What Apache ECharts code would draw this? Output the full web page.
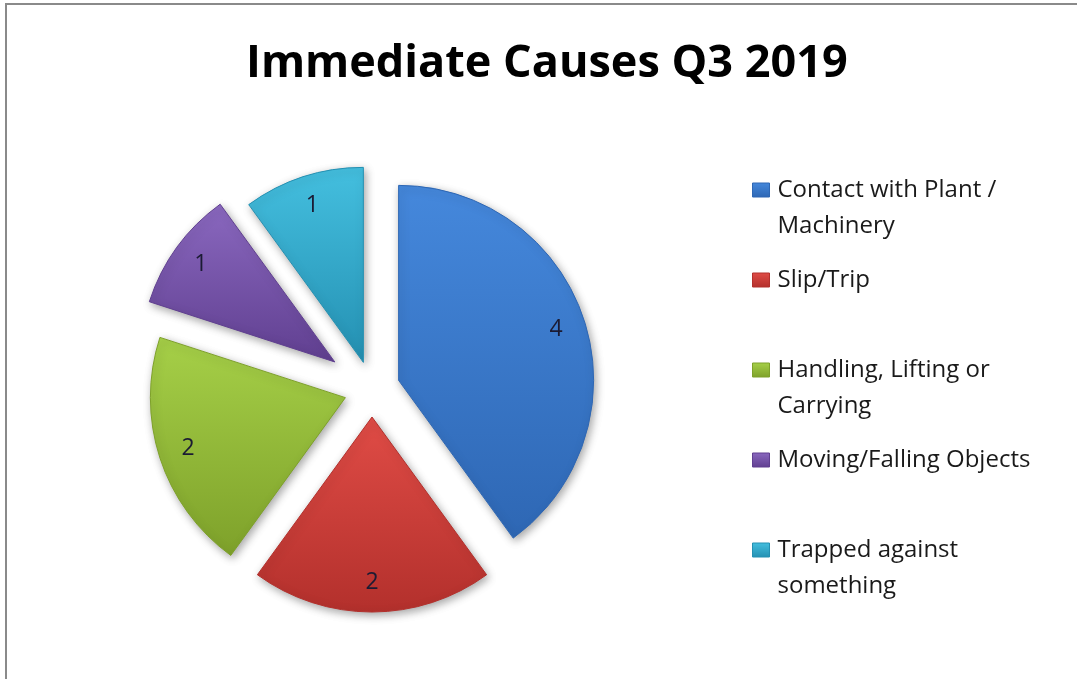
<!DOCTYPE html>
<html>
<head>
<meta charset="utf-8">
<script src="https://cdn.jsdelivr.net/npm/echarts@6/dist/echarts.min.js"></script>
<style>
  html, body { margin: 0; padding: 0; background: #fff; }
  #causes { width: 1077px; height: 679px; }
  #frame {
    position: absolute; left: 5px; top: 3px; width: 1100px; height: 700px;
    border: 2px solid #8a8a8a; pointer-events: none;
  }
</style>
</head>
<body>
<div id="causes"></div>
<div id="frame"></div>
<script>
// chart data
const categories = [
  'Contact with Plant / Machinery',
  'Slip/Trip',
  'Handling, Lifting or Carrying',
  'Moving/Falling Objects',
  'Trapped against something'
]
const counts = [4, 2, 2, 1, 1]

// light / dark shade per slice
const lightColors = ['#4588dc', '#e04c46', '#a6d048', '#8a68bf', '#44bfdf']
const darkColors = ['#2e67b4', '#b3302c', '#7ea12a', '#603f90', '#2490b2']

const CENTER = [372, 389]
const RADIUS = 195
const FAR_INDEX = 3 // purple slice is pulled out further
const OFFSET_NEAR = 28
const OFFSET_FAR = 46

const LEGEND_FONT = '24px "Open Sans"'
const LEGEND_WRAP = 290

function shade(i) {
  return {
    type: 'linear', x: 0, y: 0, x2: 0, y2: 1,
    colorStops: [
      { offset: 0, color: lightColors[i] },
      { offset: 1, color: darkColors[i] }
    ]
  }
}

const hidden = { color: 'rgba(0,0,0,0)', borderWidth: 0, shadowBlur: 0, shadowColor: 'rgba(0,0,0,0)' }

function sliceData(far) {
  return categories.map((name, i) => {
    const show = (i === FAR_INDEX) === far
    return {
      name: name,
      value: counts[i],
      selected: true,
      itemStyle: show ? {
        color: shade(i),
        borderColor: darkColors[i],
        borderWidth: 1,
        shadowBlur: 8,
        shadowOffsetX: 2,
        shadowOffsetY: 3,
        shadowColor: 'rgba(0,0,0,0.35)'
      } : hidden
    }
  })
}

function labelData(far) {
  return categories.map((name, i) => {
    const show = (i === FAR_INDEX) === far
    return {
      name: name,
      value: counts[i],
      selected: true,
      itemStyle: hidden,
      label: { show: show }
    }
  })
}

const labelStyle = {
  show: true,
  position: 'inside',
  formatter: '{c}',
  color: '#1b1b33',
  fontSize: 23,
  fontFamily: 'Open Sans',
  padding: [8, 0, 0, 0]
}

function pieSeries(data, offset, radius, withLabel) {
  return {
    type: 'pie',
    center: CENTER,
    radius: radius,
    startAngle: 90,
    clockwise: true,
    selectedMode: 'multiple',
    selectedOffset: offset,
    silent: true,
    avoidLabelOverlap: false,
    label: withLabel ? labelStyle : { show: false },
    labelLine: { show: false },
    emphasis: { disabled: true },
    select: { itemStyle: {} },
    data: data
  }
}

// word wrap like the original legend, then pad to three lines so the
// first line sits beside the icon
const measureCtx = document.createElement('canvas').getContext('2d')
function legendText(name) {
  measureCtx.font = LEGEND_FONT
  const words = name.split(' ')
  const lines = []
  let cur = ''
  words.forEach(w => {
    const test = cur ? cur + ' ' + w : w
    if (cur && measureCtx.measureText(test).width > LEGEND_WRAP) {
      lines.push(cur)
      cur = w
    } else {
      cur = test
    }
  })
  lines.push(cur)
  if (lines.length > 1) {
    return '\n' + lines.join('\n')
  }
  return '\n' + lines[0] + '\n'
}

const chart = echarts.init(document.getElementById('causes'))
chart.setOption({
  animation: false,
  backgroundColor: '#fff',
  title: {
    text: 'Immediate Causes Q3 2019',
    left: 241,
    top: 37,
    textStyle: {
      fontFamily: 'Open Sans',
      fontWeight: 'bold',
      fontSize: 45,
      color: '#000'
    }
  },
  legend: {
    orient: 'vertical',
    left: 752,
    top: 136,
    padding: 0,
    itemGap: -18,
    itemWidth: 17,
    itemHeight: 14,
    icon: 'rect',
    selectedMode: false,
    formatter: legendText,
    data: categories.map((name, i) => ({
      name: name,
      itemStyle: { color: shade(i), borderColor: darkColors[i], borderWidth: 1 }
    })),
    textStyle: {
      fontFamily: 'Open Sans',
      fontSize: 24,
      color: '#1a1a1a',
      lineHeight: 36,
      padding: [0, 0, 0, 3]
    }
  },
  series: [
    pieSeries(sliceData(false), OFFSET_NEAR, RADIUS, false),
    pieSeries(sliceData(true), OFFSET_FAR, RADIUS, false),
    pieSeries(labelData(false), OFFSET_NEAR, [130, RADIUS], true),
    pieSeries(labelData(true), OFFSET_FAR, [130, RADIUS], true)
  ]
})
</script>
</body>
</html>
